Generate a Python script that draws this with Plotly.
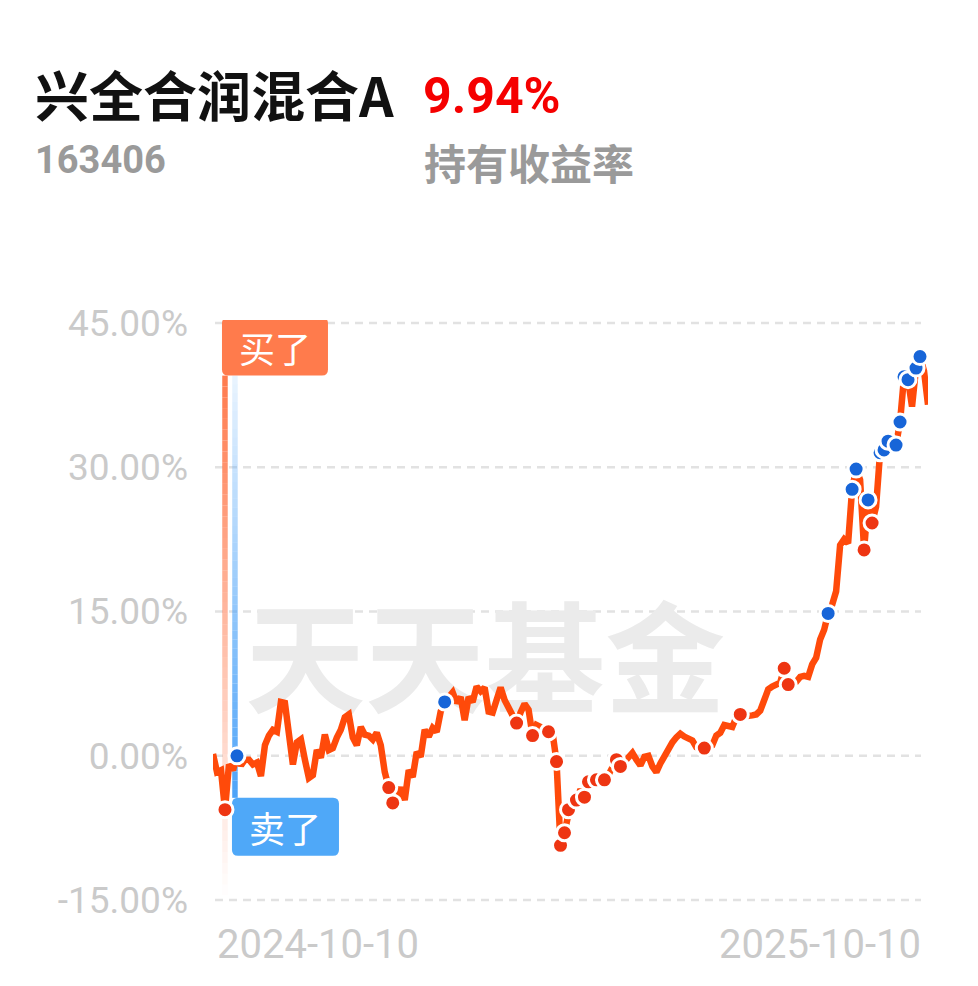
import plotly.graph_objects as go
import pandas as pd

# ---------------- data ----------------
fund_name = "兴全合润混合A"
fund_code = "163406"
hold_return = "9.94%"
hold_label = "持有收益率"
watermark = "天天基金"
start_date = "2024-10-10"
end_date = "2025-10-10"
date_labels = ["2024-10-10", "2025-10-10"]
y_ticks = [-15, 0, 15, 30, 45]
y_tick_labels = ["-15.00%", "0.00%", "15.00%", "30.00%", "45.00%"]

returns = [
    0.2, -1.7, -1.5, -5.6, -0.9, -1.5, 0.0, -1.0, -0.4, -0.4,
    -0.9, -0.7, -2.1, 1.1, 2.1, 2.7, 2.5, 5.6, 5.5, 2.2,
    -0.9, 1.4, 1.7, -0.4, -2.3, -2.0, 0.6, -0.2, 2.2, 0.6,
    0.8, 1.9, 2.7, 4.0, 4.3, 1.9, 1.1, 3.0, 2.2, 2.1,
    1.7, 2.4, 1.1, -1.7, -3.3, -4.9, -4.3, -3.3, -4.6, -1.5,
    -2.2, 0.4, -0.1, 2.7, 2.0, 2.9, 2.5, 4.6, 5.6, 6.1,
    6.6, 5.5, 6.1, 3.7, 6.1, 5.6, 7.2, 6.7, 7.1, 4.6,
    4.5, 5.8, 7.1, 5.8, 5.0, 4.3, 3.4, 4.5, 5.4, 4.8,
    2.1, 3.2, 3.0, 2.6, 2.5, 2.4, -0.6, -9.3, -8.0, -5.6,
    -4.1, -4.6, -3.5, -4.3, -2.7, -3.0, -2.5, -2.6, -2.5, -2.0,
    -1.2, -0.4, -1.1, -0.6, -0.1, 0.3, -0.4, -1.0, -0.1, 0.0,
    -1.1, -1.7, -0.8, 0.0, 0.5, 1.4, 1.9, 2.3, 2.0, 1.7,
    1.6, 0.9, 0.7, 0.8, 1.0, 1.1, 2.1, 2.4, 3.2, 3.1,
    3.0, 4.0, 4.3, 4.1, 4.1, 4.2, 4.3, 4.7, 5.8, 6.9,
    7.2, 7.5, 7.6, 9.1, 7.4, 7.6, 7.7, 8.2, 8.3, 8.2,
    9.5, 10.2, 12.1, 13.1, 14.8, 15.7, 17.1, 21.9, 22.5, 22.1,
    27.7, 29.8, 28.7, 21.4, 26.6, 24.2, 25.9, 31.5, 31.8, 32.7,
    32.4, 32.3, 34.7, 39.4, 39.1, 36.3, 40.3, 41.5, 40.0, 36.5,
]
buy_idx = [3, 44, 45, 76, 80, 84, 86, 87, 88, 89, 91, 93, 94, 96, 98,
           101, 102, 123, 132, 143, 144, 163, 165]
sell_idx = [6, 58, 154, 160, 161, 164, 167, 168, 169, 171, 172, 173, 174,
            176, 177]
first_buy = 3
first_sell = 6

dates = pd.date_range(start_date, end_date, periods=len(returns))

# ---------------- styling / layout helpers ----------------
W, H = 978, 986
ML, MR, MT, MB = 213, 50, 320, 83
PW, PH = W - ML - MR, H - MT - MB
Y_RANGE = [-15.3, 45.3]
PX_PER_UNIT = PH / (Y_RANGE[1] - Y_RANGE[0])

def px_x(px):
    return (px - ML) / PW

def px_y(py):
    return (H - MB - py) / PH

LINE_C = "#FF4A0A"
RED_C = "#EE3512"
BLUE_C = "#1765D8"
CJK = "Noto Sans CJK SC"
NUM = "Roboto, Noto Sans, sans-serif"

fig = go.Figure()

# watermark (drawn first so the line sits on top)
fig.add_trace(go.Scatter(
    x=[pd.Timestamp("2025-02-26")], y=[8.5], mode="text", text=[watermark],
    textfont=dict(family=CJK, size=120, color="#EBEBEB", weight="bold"),
    hoverinfo="skip", showlegend=False, cliponaxis=False))

fig.add_trace(go.Scatter(
    x=dates, y=returns, mode="lines",
    line=dict(color=LINE_C, width=6.5, shape="linear"),
    hoverinfo="skip", showlegend=False))

fig.add_trace(go.Scatter(
    x=[dates[i] for i in buy_idx], y=[returns[i] for i in buy_idx],
    mode="markers",
    marker=dict(color=RED_C, size=16, line=dict(color="white", width=3)),
    hoverinfo="skip", showlegend=False, cliponaxis=False))

fig.add_trace(go.Scatter(
    x=[dates[i] for i in sell_idx], y=[returns[i] for i in sell_idx],
    mode="markers",
    marker=dict(color=BLUE_C, size=16, line=dict(color="white", width=3)),
    hoverinfo="skip", showlegend=False, cliponaxis=False))

shapes = []
# dashed grid lines
for t in y_ticks:
    shapes.append(dict(type="line", xref="paper", yref="y",
                       x0=px_x(215), x1=px_x(921), y0=t, y1=t,
                       line=dict(color="#E2E2E2", width=2.5, dash="8px,6px"),
                       layer="below"))

def gradient(xval, xoff, y_top, y_bot, rgb, a_top, a_bot, n=48):
    out = []
    for k in range(n):
        ya = y_top + (y_bot - y_top) * k / n
        yb = y_top + (y_bot - y_top) * (k + 1) / n
        a = a_top + (a_bot - a_top) * (k + 0.5) / n
        out.append(dict(type="line", xref="x", yref="y", xsizemode="pixel",
                        xanchor=xval, x0=xoff, x1=xoff, y0=ya, y1=yb,
                        line=dict(color=f"rgba({rgb},{a:.3f})", width=5.5),
                        layer="between"))
    return out

BOX_H = 58
BUY_TOP, SELL_TOP = 45.55, -4.37
BUY_BOTTOM = BUY_TOP - BOX_H / PX_PER_UNIT

shapes += gradient(dates[first_buy], 0, BUY_BOTTOM, -14.5, "255,122,77", 1.0, 0.0)
shapes += gradient(dates[first_sell], -2, BUY_BOTTOM, SELL_TOP, "77,163,248", 0.12, 1.0)

def rrect(x0, w, h, r):
    x1 = x0 + w
    return (f"M{x0 + r},0 L{x1 - r},0 Q{x1},0 {x1},{-r} L{x1},{-(h - r)} "
            f"Q{x1},{-h} {x1 - r},{-h} L{x0 + r},{-h} Q{x0},{-h} {x0},{-(h - r)} "
            f"L{x0},{-r} Q{x0},0 {x0 + r},0 Z")

shapes.append(dict(type="path", xref="x", yref="y", xsizemode="pixel",
                   ysizemode="pixel", xanchor=dates[first_buy], yanchor=BUY_TOP,
                   path=rrect(-3, 106, BOX_H, 6), fillcolor="#FF7B4C",
                   line=dict(width=0), layer="between"))
shapes.append(dict(type="path", xref="x", yref="y", xsizemode="pixel",
                   ysizemode="pixel", xanchor=dates[first_sell], yanchor=SELL_TOP,
                   path=rrect(-5, 107, BOX_H, 6), fillcolor="#4FA8F8",
                   line=dict(width=0), layer="between"))

annotations = [
    dict(text="买了", xref="x", yref="y", x=dates[first_buy], y=BUY_BOTTOM,
         xanchor="center", yanchor="middle", xshift=50, yshift=BOX_H / 2,
         showarrow=False, font=dict(family=CJK, size=36, color="white")),
    dict(text="卖了", xref="x", yref="y", x=dates[first_sell], y=SELL_TOP,
         xanchor="center", yanchor="middle", xshift=48.5, yshift=-BOX_H / 2,
         showarrow=False, font=dict(family=CJK, size=36, color="white")),
    dict(text=fund_name, xref="paper", yref="paper", x=px_x(33), y=px_y(93),
         xanchor="left", yanchor="middle", showarrow=False,
         font=dict(family=CJK, size=54, color="#111111", weight="bold")),
    dict(text=hold_return, xref="paper", yref="paper", x=px_x(421), y=px_y(96),
         xanchor="left", yanchor="middle", showarrow=False,
         font=dict(family=NUM, size=50, color="#F50000", weight="bold")),
    dict(text=fund_code, xref="paper", yref="paper", x=px_x(33), y=px_y(160),
         xanchor="left", yanchor="middle", showarrow=False,
         font=dict(family=NUM, size=38, color="#9A9A9A", weight="bold")),
    dict(text=hold_label, xref="paper", yref="paper", x=px_x(422), y=px_y(161),
         xanchor="left", yanchor="middle", showarrow=False,
         font=dict(family=CJK, size=42, color="#9A9A9A", weight="bold")),
    dict(text=date_labels[0], xref="x", yref="paper", x=dates[0], y=px_y(944),
         xanchor="left", yanchor="middle", xshift=2, showarrow=False,
         font=dict(family=NUM, size=40, color="#CACACA")),
    dict(text=date_labels[1], xref="x", yref="paper", x=dates[-1], y=px_y(944),
         xanchor="right", yanchor="middle", xshift=-5, showarrow=False,
         font=dict(family=NUM, size=40, color="#CACACA")),
]

fig.update_layout(
    width=W, height=H, margin=dict(l=ML, r=MR, t=MT, b=MB),
    paper_bgcolor="white", plot_bgcolor="white",
    shapes=shapes, annotations=annotations, showlegend=False,
    hovermode=False,
    xaxis=dict(range=[dates[0], dates[-1]], visible=False, showgrid=False,
               zeroline=False, fixedrange=True),
    yaxis=dict(range=Y_RANGE, tickvals=y_ticks, ticktext=y_tick_labels,
               showgrid=False, zeroline=False, showline=False, ticks="",
               ticklabelstandoff=24, fixedrange=True,
               tickfont=dict(family=NUM, size=37, color="#CACACA")),
)

fig.write_html("out.html",
               config={"displayModeBar": False, "staticPlot": True},
               post_script="document.body.style.margin='0';"
                           "document.body.style.padding='0';")
